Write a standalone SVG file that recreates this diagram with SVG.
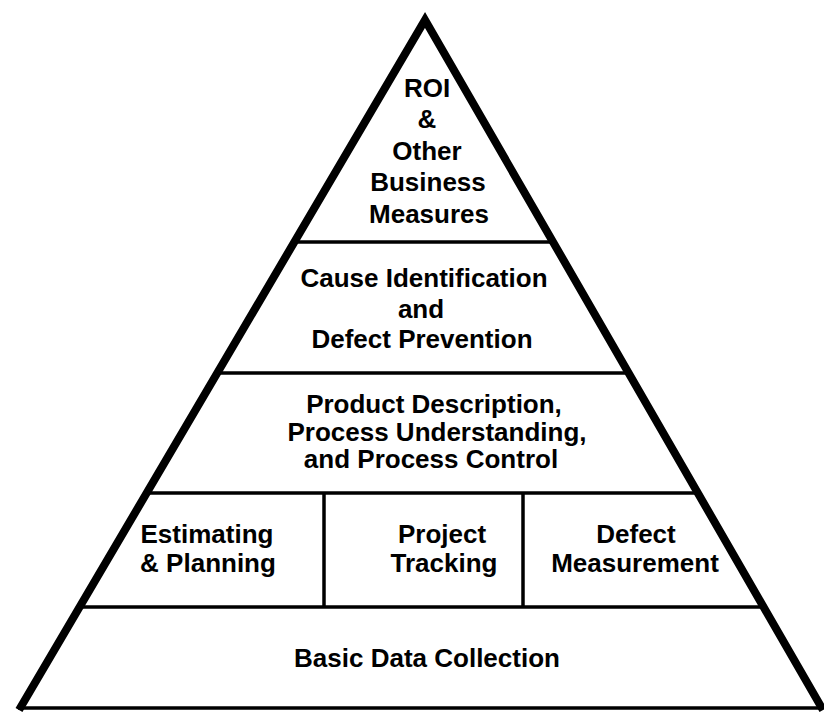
<svg xmlns="http://www.w3.org/2000/svg" width="824" height="714" viewBox="0 0 824 714">
  <style>
    .lbl { font-family: "Liberation Sans", Arial, Helvetica, sans-serif; font-weight: bold; font-size: 26px; fill: #000; text-anchor: middle; }
    .band { stroke: #000; stroke-width: 3.5; fill: none; }
    .side { stroke: #000; stroke-width: 8; fill: none; stroke-linejoin: miter; stroke-miterlimit: 10; }
  </style>
  <rect x="0" y="0" width="824" height="714" fill="#fff"/>
  <g id="connectors">
    <line class="band" x1="294" y1="242" x2="553" y2="242"/>
    <line class="band" x1="217" y1="373" x2="629" y2="373"/>
    <line class="band" x1="147" y1="493" x2="698" y2="493"/>
    <line class="band" x1="80" y1="607" x2="764" y2="607"/>
    <line class="band" x1="18" y1="708" x2="822" y2="708"/>
    <line class="band" x1="324" y1="493" x2="324" y2="607"/>
    <line class="band" x1="523" y1="493" x2="523" y2="607"/>
    <polyline class="side" points="19,710 425,20 823,710"/>
  </g>
  <g id="roi">
    <text class="lbl" x="427" y="97">ROI</text>
    <text class="lbl" x="427" y="128">&amp;</text>
    <text class="lbl" x="427" y="160">Other</text>
    <text class="lbl" x="428" y="191">Business</text>
    <text class="lbl" x="429" y="223">Measures</text>
  </g>
  <g id="cause">
    <text class="lbl" x="424" y="287">Cause Identification</text>
    <text class="lbl" x="421" y="318">and</text>
    <text class="lbl" x="422" y="348">Defect Prevention</text>
  </g>
  <g id="product">
    <text class="lbl" x="434" y="413">Product Description,</text>
    <text class="lbl" x="437" y="441">Process Understanding,</text>
    <text class="lbl" x="431" y="468">and Process Control</text>
  </g>
  <g id="estimating">
    <text class="lbl" x="207" y="543">Estimating</text>
    <text class="lbl" x="208" y="572">&amp; Planning</text>
  </g>
  <g id="tracking">
    <text class="lbl" x="442" y="543">Project</text>
    <text class="lbl" x="444" y="572">Tracking</text>
  </g>
  <g id="defect">
    <text class="lbl" x="636" y="543">Defect</text>
    <text class="lbl" x="635" y="572">Measurement</text>
  </g>
  <g id="basic">
    <text class="lbl" x="427" y="667">Basic Data Collection</text>
  </g>
</svg>
